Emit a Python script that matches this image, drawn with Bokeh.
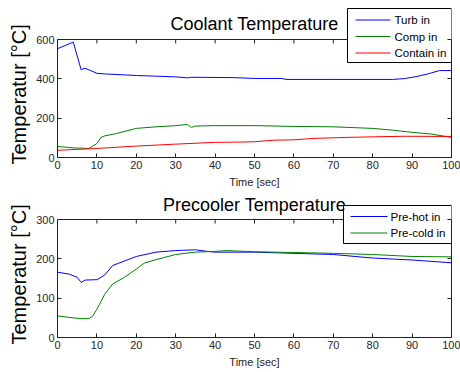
from bokeh.plotting import figure
from bokeh.models import LinearAxis, Range1d, FixedTicker, Span, Label, Title
from bokeh.core.properties import value
from bokeh.layouts import column
from bokeh.embed import file_html
from bokeh.resources import INLINE

# ---- data: top panel (Coolant Temperature) ----
t_turb = [0, 4, 6, 7, 10, 12, 20, 30, 33, 34, 40, 45, 50, 57, 58, 70, 85, 88, 91, 94, 97, 100]
turb_in = [553, 587, 446, 454, 428, 425, 417, 410, 405, 408, 407, 406, 402, 402, 397, 397, 397, 401, 411, 425, 442, 442]

t_comp = [0, 4, 8, 10, 11, 12, 15, 20, 25, 30, 33, 34, 35, 40, 50, 60, 70, 80, 85, 90, 95, 100]
comp_in = [56, 49, 46, 71, 102, 110, 122, 148, 156, 162, 168, 153, 160, 162, 162, 158, 156, 148, 139, 128, 119, 102]

t_cont = [0, 8, 10, 20, 30, 40, 45, 50, 55, 60, 65, 73, 80, 88, 100]
contain_in = [37, 44, 46, 58, 68, 77, 78, 80, 88, 90, 97, 102, 105, 108, 107]

# ---- data: bottom panel (Precooler Temperature) ----
t_hot = [0, 3, 5, 6, 7, 10, 12, 14, 20, 25, 30, 35, 38, 40, 50, 60, 70, 80, 90, 100]
pre_hot_in = [166, 161, 153, 140, 146, 147, 159, 183, 206, 217, 221, 223, 219, 217, 217, 214, 211, 202, 197, 190]

t_cold = [0, 3, 6, 8, 9, 10, 12, 14, 17, 20, 22, 25, 30, 35, 40, 43, 50, 60, 70, 80, 90, 100]
pre_cold_in = [55, 51, 48, 48, 55, 72, 110, 136, 153, 174, 189, 198, 211, 217, 219, 221, 218, 216, 214, 211, 206, 205]

x_ticks = [0, 10, 20, 30, 40, 50, 60, 70, 80, 90, 100]
y_ticks_top = [0, 200, 400, 600]
y_ticks_bot = [0, 100, 200, 300]

labels_top = ["Turb in", "Comp in", "Contain in"]
colors_top = ["#0000ff", "#008000", "#ff0000"]
labels_bot = ["Pre-hot in", "Pre-cold in"]
colors_bot = ["#0000ff", "#008000"]

FONT = "Liberation Sans"
AX = "#222222"
LBL = "#262626"
BOX_H = 118    # height in px of each axes box
FRAME_L = 57   # px, left edge of the axes box
FRAME_W = 394  # px, width of the axes box
TICK = 4


def style_axis(ax, ticks, show_labels=True):
    ax.ticker = FixedTicker(ticks=ticks)
    ax.major_tick_in = TICK
    ax.major_tick_out = 0
    ax.minor_tick_in = 0
    ax.minor_tick_out = 0
    ax.axis_line_color = AX
    ax.major_tick_line_color = AX
    ax.major_label_text_font = FONT
    if show_labels:
        ax.major_label_text_color = LBL
        ax.major_label_text_font_size = "11px"
        ax.major_label_standoff = 3
    else:
        ax.major_label_text_color = None
        ax.major_label_text_font_size = "0px"
        ax.major_label_standoff = 0


def make_fig(ymax, yticks, height, mb_bottom):
    frame_h = height - mb_bottom
    y_end = ymax * frame_h / BOX_H
    p = figure(width=460, height=height, x_range=Range1d(0, 100), y_range=Range1d(0, y_end),
               output_backend="svg", toolbar_location=None, title=None,
               min_border_left=FRAME_L, min_border_right=460 - FRAME_L - FRAME_W,
               min_border_top=0, min_border_bottom=mb_bottom)
    p.grid.visible = False
    p.outline_line_color = None
    style_axis(p.xaxis[0], x_ticks)
    style_axis(p.yaxis[0], yticks)
    p.yaxis[0].bounds = (0, ymax)
    p.xaxis[0].axis_label = "Time [sec]"
    p.xaxis[0].axis_label_text_font = FONT
    p.xaxis[0].axis_label_text_font_size = "11px"
    p.xaxis[0].axis_label_text_font_style = "normal"
    p.xaxis[0].axis_label_text_color = LBL
    p.xaxis[0].axis_label_standoff = 4
    ylab = Title(text="Temperatur [°C]", align="left", offset=-7, vertical_align="bottom",
                 standoff=8, text_font=FONT, text_font_size="20px",
                 text_font_style="normal", text_color="black")
    p.add_layout(ylab, "left")
    right = LinearAxis()
    style_axis(right, yticks, show_labels=False)
    right.bounds = (0, ymax)
    p.add_layout(right, "right")
    # top edge of the axes box (drawn beneath everything else)
    p.add_layout(Span(location=ymax, dimension="width", line_color=AX, line_width=1, level="underlay"))
    per_px = y_end / frame_h
    p.segment(x0=x_ticks, y0=[ymax] * len(x_ticks), x1=x_ticks,
              y1=[ymax - TICK * per_px] * len(x_ticks), line_color=AX, line_width=1)
    return p, per_px


def add_title(p, title, per_px, px_above_bottom):
    p.add_layout(Label(x=50, y=px_above_bottom * per_px, text=title,
                       text_align="center", text_baseline="alphabetic",
                       text_font=FONT, text_font_size="18px", text_color="black"))


def add_legend(p, labels, colors, per_px, frame_bottom_py, box, rows, glyph, text_px):
    def tx(px):
        return (px - FRAME_L) * 100.0 / FRAME_W

    def ty(py):
        return (frame_bottom_py - py) * per_px

    left, right, top, bottom = box
    n = len(labels)
    p.quad(left=[tx(left)], right=[tx(right)], top=[ty(top)], bottom=[ty(bottom)],
           fill_color="white", line_color="black", line_width=1)
    ys = [ty(r) for r in rows]
    p.segment(x0=[tx(glyph[0])] * n, x1=[tx(glyph[1])] * n, y0=ys, y1=ys,
              line_color=colors, line_width=1)
    p.text(x=[tx(text_px)] * n, y=ys, text=labels, text_font=value(FONT),
           text_font_size=value("11.5px"), text_color="black",
           text_align="left", text_baseline="middle")


# ---- top panel ----
p1, pp1 = make_fig(600, y_ticks_top, 190, 33)
p1.line(t_turb, turb_in, line_color=colors_top[0], line_width=1)
p1.line(t_comp, comp_in, line_color=colors_top[1], line_width=1)
p1.line(t_cont, contain_in, line_color=colors_top[2], line_width=1)
add_title(p1, "Coolant Temperature", pp1, 157 - 23)
add_legend(p1, labels_top, colors_top, pp1, 157,
           box=(347, 451, 8, 62), rows=[19.5, 36, 52.5], glyph=(355, 390), text_px=394)

# ---- bottom panel (page y offset 190) ----
p2, pp2 = make_fig(300, y_ticks_bot, 182, 35)
p2.line(t_hot, pre_hot_in, line_color=colors_bot[0], line_width=1)
p2.line(t_cold, pre_cold_in, line_color=colors_bot[1], line_width=1)
add_title(p2, "Precooler Temperature", pp2, 147 - 14)
add_legend(p2, labels_bot, colors_bot, pp2, 147,
           box=(343, 451, 15, 53), rows=[26, 42.5], glyph=(350, 387), text_px=390)

layout = column(p1, p2, spacing=0)
open("out.html", "w").write(file_html(layout, INLINE))
